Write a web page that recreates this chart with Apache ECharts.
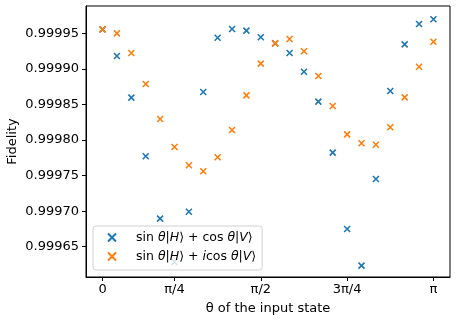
<!DOCTYPE html>
<html><head><meta charset="utf-8">
<script src="https://cdn.jsdelivr.net/npm/echarts@6/dist/echarts.min.js"></script>
<style>html,body{margin:0;padding:0;background:#fff}#c{width:458px;height:323px}</style>
</head><body><div id="c"></div>
<script>
// theta sample index (24 equally spaced samples from 0 to pi)
const thetaIndex = [0,1,2,3,4,5,6,7,8,9,10,11,12,13,14,15,16,17,18,19,20,21,22,23];
const fidelityReal = [0.9999556,0.9999181,0.9998595,0.9997771,0.9996894,0.9996285,0.9996992,0.9998675,0.9999438,0.9999560,0.9999537,0.9999444,0.9999359,0.9999223,0.9998960,0.9998539,0.9997822,0.9996749,0.9996233,0.9997452,0.9998689,0.9999345,0.9999631,0.9999697];
const fidelityImag = [0.9999556,0.9999500,0.9999223,0.9998787,0.9998295,0.9997902,0.9997645,0.9997560,0.9997757,0.9998141,0.9998628,0.9999073,0.9999359,0.9999420,0.9999247,0.9998900,0.9998478,0.9998080,0.9997954,0.9997934,0.9998179,0.9998600,0.9999030,0.9999382];
const xTickPos = [0,5,11,17,23];
const xTickLabels = ['0','π/4','π/2','3π/4','π'];
const yTicks = [0.99965,0.99970,0.99975,0.99980,0.99985,0.99990,0.99995];
const seriesNames = ['sinθ|H⟩ + cosθ|V⟩','sinθ|H⟩ + icosθ|V⟩'];

const FONT = 'DejaVu Sans';
const xSym = 'path://M0,0L10,10M0,10L10,0';
const chart = echarts.init(document.getElementById('c'), null, {renderer:'canvas'});
const legendRich = {
  n:{fontFamily:FONT,fontSize:12.5,color:'#000',lineHeight:14},
  i:{fontFamily:FONT,fontSize:12.5,fontStyle:'italic',color:'#000',lineHeight:14}
};
chart.setOption({
  animation:false,
  backgroundColor:'#fff',
  grid:{left:86,right:8,top:6,bottom:46,show:true,borderColor:'#000',borderWidth:1,backgroundColor:'transparent',
        containLabel:false,outerBoundsMode:'none'},
  xAxis:{
    type:'value',min:-1.15,max:24.15,
    axisLine:{show:true,onZero:false,lineStyle:{color:'#000',width:1}},
    axisTick:{show:true,length:4,lineStyle:{color:'#000'},customValues:xTickPos},
    axisLabel:{color:'#000',fontFamily:FONT,fontSize:13,margin:6,customValues:xTickPos,
      formatter:v=>{const k=xTickPos.indexOf(Math.round(v));return k>=0?xTickLabels[k]:'';}},
    splitLine:{show:false},
    name:'θ of the input state',nameLocation:'middle',nameGap:25,nameMoveOverlap:false,
    nameTextStyle:{color:'#000',fontFamily:FONT,fontSize:13}
  },
  yAxis:{
    type:'value',min:0.9996074,max:0.9999884,
    axisLine:{show:true,onZero:false,lineStyle:{color:'#000',width:1}},
    axisTick:{show:true,length:4,lineStyle:{color:'#000'},customValues:yTicks},
    axisLabel:{color:'#000',fontFamily:FONT,fontSize:13,margin:7,customValues:yTicks,
      formatter:v=>v.toFixed(5)},
    splitLine:{show:false},
    name:'Fidelity',nameLocation:'middle',nameGap:67,nameMoveOverlap:false,
    nameTextStyle:{color:'#000',fontFamily:FONT,fontSize:13}
  },
  legend:{
    orient:'vertical',left:93,top:226,
    backgroundColor:'rgba(255,255,255,0.8)',borderColor:'#d0d0d0',borderWidth:1,borderRadius:3,
    padding:[5,6,7,14],itemGap:6,itemWidth:8,itemHeight:8,
    data:seriesNames.map(n=>({name:n,icon:xSym})),
    formatter:function(name){
      if(name===seriesNames[0]) return '{n|sin }{i|θ}{n||}{i|H}{n|⟩ + cos }{i|θ}{n||}{i|V}{n|⟩}';
      return '{n|sin }{i|θ}{n||}{i|H}{n|⟩ + }{i|i}{n|cos }{i|θ}{n||}{i|V}{n|⟩}';
    },
    textStyle:{rich:legendRich,padding:[0,0,0,15]}
  },
  series:[
    {name:seriesNames[0],type:'scatter',symbol:xSym,symbolSize:6,
     itemStyle:{color:'#1f77b4',borderColor:'#1f77b4',borderWidth:1.6,opacity:1},
     data:thetaIndex.map((x,i)=>[x,fidelityReal[i]])},
    {name:seriesNames[1],type:'scatter',symbol:xSym,symbolSize:6,
     itemStyle:{color:'#ff7f0e',borderColor:'#ff7f0e',borderWidth:1.6,opacity:1},
     data:thetaIndex.map((x,i)=>[x,fidelityImag[i]])}
  ]
});
</script></body></html>
